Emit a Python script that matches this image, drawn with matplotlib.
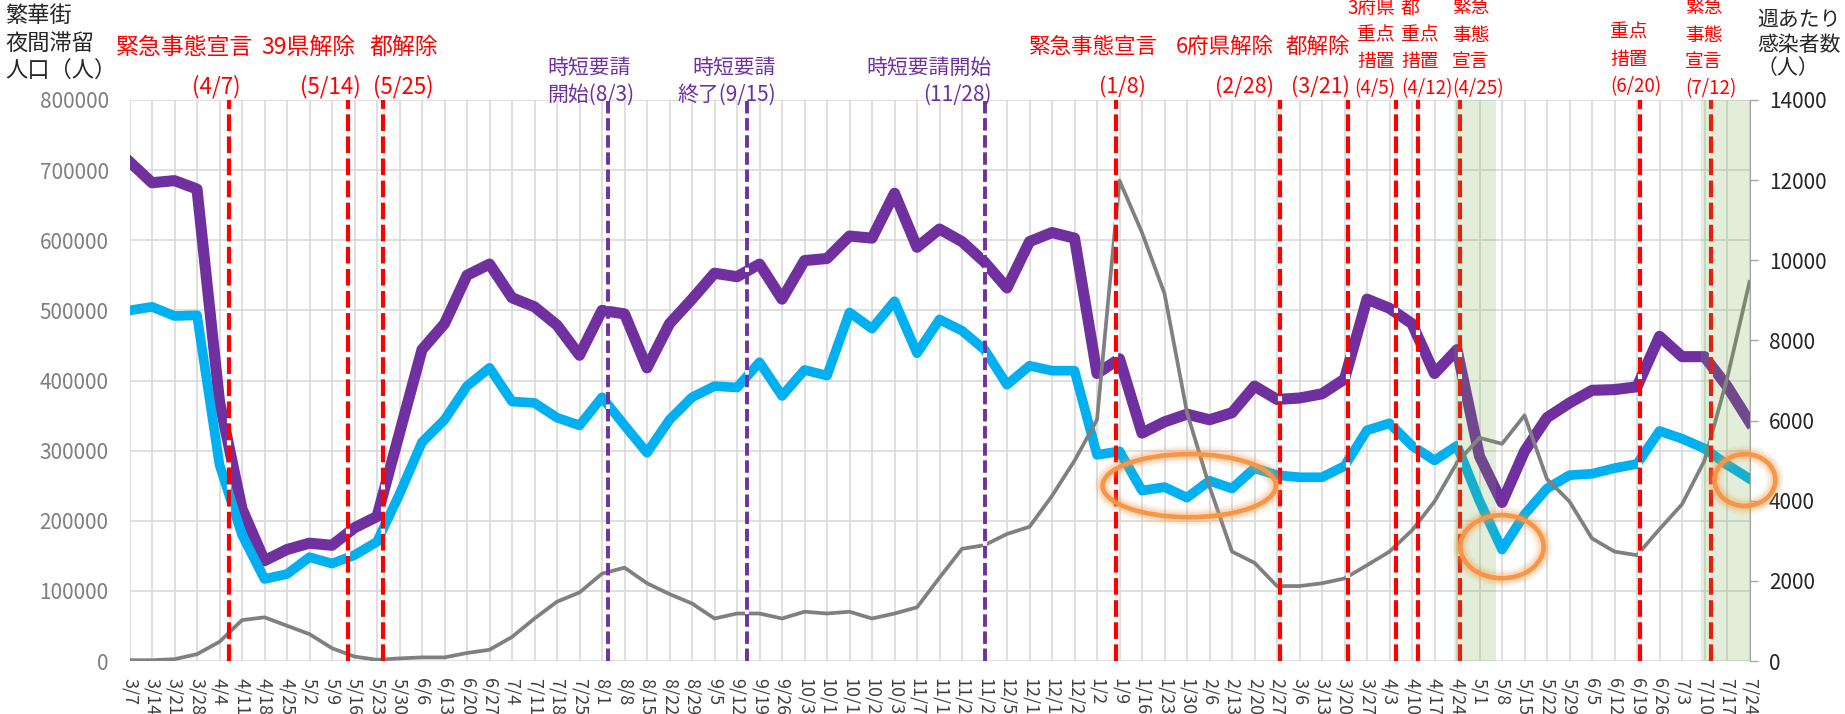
import matplotlib
matplotlib.use("Agg")
import matplotlib.pyplot as plt
import matplotlib.ticker as mticker
from matplotlib.patches import Ellipse
import pandas as pd

plt.rcParams["font.family"] = ["Noto Sans CJK JP", "DejaVu Sans"]

W, H = 1845, 714

# weekly categories, 2020/3/7 .. 2021/7/24
weeks = pd.date_range("2020-03-07", periods=73, freq="7D")
week_labels = [f"{d.month}/{d.day}" for d in weeks]

# night-time population of the two entertainment districts (left axis)
district_purple = [
    712000, 682000, 685000, 673000, 370000, 217000, 143000, 159000, 168000, 165000,
    190000, 206000, 325000, 444000, 481000, 550000, 566000, 518000, 505000, 479000,
    436000, 500000, 495000, 418000, 481000, 516000, 553000, 548000, 566000, 516000,
    571000, 574000, 606000, 603000, 667000, 590000, 616000, 598000, 569000, 532000,
    598000, 611000, 603000, 410000, 431000, 325000, 341000, 352000, 344000, 354000,
    392000, 373000, 375000, 381000, 402000, 516000, 503000, 481000, 410000, 444000,
    292000, 226000, 299000, 347000, 368000, 386000, 387000, 391000, 463000, 434000,
    434000, 392000, 341000,
]
district_blue = [
    500000, 505000, 492000, 493000, 280000, 180000, 117000, 124000, 148000, 139000,
    151000, 170000, 238000, 312000, 344000, 392000, 418000, 370000, 368000, 347000,
    336000, 376000, 336000, 297000, 344000, 376000, 392000, 390000, 426000, 378000,
    415000, 407000, 497000, 474000, 513000, 439000, 487000, 471000, 444000, 394000,
    421000, 414000, 414000, 294000, 299000, 243000, 248000, 233000, 257000, 246000,
    275000, 265000, 262000, 262000, 278000, 329000, 339000, 307000, 286000, 307000,
    228000, 159000, 209000, 246000, 265000, 267000, 275000, 281000, 328000, 317000,
    303000, 280000, 260000,
]
# weekly new infections (right axis)
weekly_cases = [
    20, 20, 45, 170, 480, 1020, 1090, 880, 670, 320,
    110, 30, 65, 90, 90, 200, 280, 600, 1060, 1480,
    1710, 2180, 2330, 1940, 1670, 1435, 1060, 1185, 1185, 1060,
    1230, 1185, 1230, 1060, 1185, 1340, 2080, 2800, 2890, 3170,
    3350, 4120, 5000, 6020, 11990, 10690, 9170, 6200, 4350, 2730,
    2450, 1870, 1870, 1940, 2060, 2390, 2730, 3260, 3980, 4950,
    5570, 5420, 6130, 4540, 3980, 3060, 2730, 2640, 3290, 3910,
    5000, 7040, 9460,
]

red_events = ["2020-04-07", "2020-05-14", "2020-05-25", "2021-01-08", "2021-02-28",
              "2021-03-21", "2021-04-05", "2021-04-12", "2021-04-25", "2021-06-20",
              "2021-07-12"]
purple_events = ["2020-08-03", "2020-09-15", "2020-11-28"]
shade_spans = [("2021-04-23", "2021-05-06"), ("2021-07-09", "2021-07-24")]

RED = "#FF0000"
PURPLE = "#7030A0"
ORANGE = "#F79646"


def week_pos(day):
    return (pd.Timestamp(day) - weeks[0]).days / 7


fig = plt.figure(figsize=(W / 100, H / 100), dpi=100)
ax = fig.add_axes([129.5 / W, 53 / H, 1620 / W, 561 / H])
ax2 = ax.twinx()

x = list(range(len(week_labels)))
ax.plot(x, district_purple, color=PURPLE, lw=8, solid_joinstyle="round", zorder=3)
ax.plot(x, district_blue, color="#00B0F0", lw=7, solid_joinstyle="round", zorder=3)
ax2.plot(x, weekly_cases, color="#808080", lw=2.7, solid_joinstyle="round", zorder=3)

ax.set_xlim(0, len(x) - 1)
ax.set_ylim(0, 800000)
ax2.set_ylim(0, 14000)
ax.set_xticks(x)
ax.set_xticklabels(week_labels, rotation=270)
ax.set_yticks(range(0, 800001, 100000))
ax2.set_yticks(range(0, 14001, 2000))
ax.yaxis.set_major_formatter(mticker.FuncFormatter(lambda v, _: f"{v:.0f}"))
ax.grid(True, color="#D9D9D9", lw=1.2)
ax.set_axisbelow(True)

# the week labels run off the bottom edge, as in the original chart
ax.tick_params(axis="x", length=0, pad=12, labelsize=13, labelcolor="#404040")
ax.tick_params(axis="y", length=0, pad=15, labelsize=15, labelcolor="#7F7F7F")
ax2.tick_params(axis="y", length=6, width=1, color="#A6A6A6", pad=8,
                labelsize=15, labelcolor="#262626")
for s in ax.spines.values():
    s.set_visible(False)
for name, s in ax2.spines.items():
    s.set_visible(name == "right")
ax2.spines["right"].set_color("#A6A6A6")

for d in red_events:
    ax2.axvline(week_pos(d), color=RED, lw=3, ls=(0, (4, 1.3)),
                gapcolor="white", zorder=5)
for d in purple_events:
    ax2.axvline(week_pos(d), color=PURPLE, lw=2.8, ls=(0, (3.2, 1.2)),
                gapcolor="white", zorder=5)
for a, b in shade_spans:
    ax2.axvspan(week_pos(a), week_pos(b), color="#70AD47", alpha=0.2, lw=0, zorder=6)

# orange highlight rings (centre week, centre value, width in weeks, height)
rings = [(47.1, 250000, 7.7, 90000), (61.0, 163000, 3.7, 90000), (71.8, 258000, 2.7, 74000)]
for cx, cy, w, h in rings:
    for lw, al in [(13, 0.08), (10, 0.12), (7, 0.2)]:
        ax2.add_patch(Ellipse((cx, cy), w, h, transform=ax.transData, fill=False,
                              ec=ORANGE, lw=lw, alpha=al, zorder=7, clip_on=False))
    ax2.add_patch(Ellipse((cx, cy), w, h, transform=ax.transData, fill=False,
                          ec=ORANGE, lw=3.4, zorder=8, clip_on=False))


def label(px, py, s, color, size, ha="left"):
    fig.text(px / W, 1 - py / H, s, color=color, fontsize=size, ha=ha, va="center")


# axis titles
for py, s in [(15, "繁華街"), (44, "夜間滞留"), (70, "人口（人）")]:
    label(5, py, s, "#262626", 16)
for py, s in [(20, "週あたり"), (45, "感染者数"), (68, "（人）")]:
    label(1757, py, s, "#262626", 15)

# event captions
label(116, 47, "緊急事態宣言", RED, 16.5)
label(261, 47, "39県解除", RED, 16.5)
label(370, 47, "都解除", RED, 16.5)
label(216, 87, "(4/7)", RED, 16, "center")
label(330, 87, "(5/14)", RED, 16, "center")
label(403, 87, "(5/25)", RED, 16, "center")

label(547, 68, "時短要請", PURPLE, 15)
label(547, 95, "開始(8/3)", PURPLE, 15)
label(776, 68, "時短要請", PURPLE, 15, "right")
label(776, 95, "終了(9/15)", PURPLE, 15, "right")
label(992, 68, "時短要請開始", PURPLE, 15, "right")
label(992, 95, "(11/28)", PURPLE, 15, "right")

label(1093, 47, "緊急事態宣言", RED, 15.5, "center")
label(1122, 87, "(1/8)", RED, 15.5, "center")
label(1274, 47, "6府県解除", RED, 15.5, "right")
label(1274, 87, "(2/28)", RED, 15.5, "right")
label(1350, 47, "都解除", RED, 15.5, "right")
label(1350, 87, "(3/21)", RED, 15.5, "right")

for py, s in [(8, "3府県"), (35, "重点"), (62, "措置"), (89, "(4/5)")]:
    label(1395, py, s, RED, 13.5, "right")
for py, s in [(8, "都"), (35, "重点"), (62, "措置"), (89, "(4/12)")]:
    label(1401, py, s, RED, 13.5)
for py, s in [(8, "緊急"), (35, "事態"), (62, "宣言"), (89, "(4/25)")]:
    label(1452, py, s, RED, 13.5)
for py, s in [(32, "重点"), (60, "措置"), (87, "(6/20)")]:
    label(1610, py, s, RED, 13.5)
for py, s in [(8, "緊急"), (35, "事態"), (62, "宣言"), (89, "(7/12)")]:
    label(1685, py, s, RED, 13.5)

fig.savefig("out.png", dpi=100)
